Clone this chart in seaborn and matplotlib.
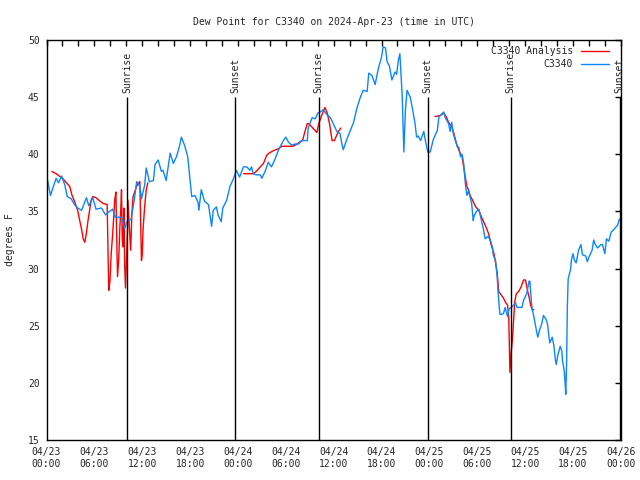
import numpy as np
import pandas as pd
import seaborn as sns
import matplotlib
matplotlib.use("Agg")
import matplotlib.pyplot as plt
import matplotlib.dates as mdates

start = pd.Timestamp("2024-04-23 00:00")

# station obs: hours after 04/23 00:00 UTC, dew point (F)
obs_hours = [0.0, 0.5, 1.2, 1.5, 1.9, 2.3, 2.6, 3.1, 3.5, 3.9, 4.4, 5.0, 5.3, 5.8, 6.2, 6.9,
             7.4, 7.9, 8.3, 8.6, 9.4, 9.8, 10.0, 10.2, 10.6, 11.0, 11.3, 11.7, 11.9, 12.3, 12.5,
             12.9, 13.4, 13.6, 14.0, 14.4, 14.6, 15.0, 15.5, 15.9, 16.3, 16.7, 16.9, 17.3, 17.7,
             18.2, 18.6, 19.0, 19.1, 19.4, 19.8, 20.3, 20.7, 20.9, 21.3, 21.5, 21.9, 22.1, 22.6,
             23.0, 23.4, 23.8, 24.2, 24.7, 25.1, 25.5, 25.7, 25.9, 26.3, 26.8, 27.0, 27.4, 27.8,
             28.2, 28.6, 29.1, 29.7, 30.0, 30.3, 30.7, 31.2, 31.6, 32.0, 32.4, 32.7, 32.8, 33.3,
             33.7, 34.0, 34.3, 34.7, 35.1, 35.6, 36.0, 36.4, 36.8, 37.0, 37.2, 37.7, 38.1, 38.5,
             38.9, 39.3, 39.7, 40.2, 40.4, 40.8, 41.2, 41.6, 42.0, 42.2, 42.5, 42.7, 43.0, 43.3,
             43.7, 43.9, 44.1, 44.3, 44.6, 44.8, 45.0, 45.2, 45.6, 45.9, 46.2, 46.4, 46.6, 46.9,
             47.3, 47.5, 47.8, 48.1, 48.5, 49.0, 49.2, 49.4, 49.8, 50.0, 50.4, 50.6, 50.8, 51.0,
             51.3, 51.5, 51.7, 51.9, 52.1, 52.3, 52.5, 52.7, 52.9, 53.3, 53.5, 53.6, 53.9, 54.2,
             54.4, 54.7, 55.0, 55.3, 55.6, 55.9, 56.0, 56.3, 56.5, 56.6, 56.75, 56.85, 57.1, 57.3,
             57.5, 57.6, 57.8, 58.0, 58.3, 58.8, 59.0, 59.6, 59.8, 60.2, 60.5, 60.6, 60.8, 60.9,
             61.1, 61.2, 61.5, 61.6, 61.8, 62.1, 62.3, 62.6, 62.8, 63.0, 63.1, 63.4, 63.6, 63.8,
             63.9, 64.1, 64.4, 64.6, 64.7, 64.9, 65.0, 65.1, 65.2, 65.3, 65.4, 65.7, 65.8, 66.0,
             66.2, 66.4, 66.7, 67.0, 67.2, 67.6, 67.8, 68.0, 68.4, 68.6, 68.8, 69.1, 69.5, 69.7,
             70.0, 70.2, 70.5, 70.8, 71.1, 71.6, 71.8, 72.0]
obs_dewpt = [38.2, 36.4, 37.9, 37.5, 38.1, 37.3, 36.3, 36.1, 35.6, 35.3, 35.1, 36.2, 35.5, 36.2, 35.2, 35.3,
             34.7, 35.0, 35.2, 34.5, 34.5, 33.5, 34.0, 34.2, 34.3, 36.0, 37.6, 37.2, 36.1, 37.3, 38.8,
             37.6, 37.7, 39.1, 39.5, 38.5, 38.6, 37.7, 40.1, 39.2, 39.8, 40.8, 41.5, 40.8, 39.8,
             36.3, 36.4, 35.8, 35.1, 36.9, 35.9, 35.6, 33.7, 35.1, 35.4, 34.7, 34.1, 35.3, 36.0,
             37.2, 37.8, 38.6, 38.0, 38.9, 38.9, 38.6, 38.9, 38.3, 38.2, 38.2, 37.9, 38.5, 39.3,
             38.9, 39.5, 40.4, 41.2, 41.5, 41.1, 40.8, 40.9, 40.9, 41.2, 41.2, 41.2, 42.3, 43.2,
             43.1, 43.6, 43.7, 43.9, 43.5, 43.2, 42.6, 42.0, 41.8, 41.0, 40.4, 41.4, 42.1, 42.8,
             44.0, 44.9, 45.6, 45.5, 47.1, 46.9, 46.1, 47.5, 48.5, 49.4, 49.3, 48.1, 47.7, 46.5,
             47.2, 47.0, 48.2, 48.8, 45.0, 40.2, 43.9, 45.6, 45.0, 43.9, 42.7, 41.5, 41.6, 41.2,
             42.0, 41.2, 40.2, 40.2, 41.3, 42.1, 43.3, 43.4, 43.7, 43.2, 42.7, 42.0, 42.8, 41.8,
             41.1, 40.7, 40.6, 39.8, 40.0, 39.2, 37.5, 36.4, 36.8, 35.7, 34.2, 34.6, 35.0, 35.2,
             34.6, 33.7, 32.6, 32.8, 32.6, 31.9, 31.2, 30.7, 29.3, 28.1, 26.7, 26.0, 26.0, 26.1,
             26.6, 26.3, 25.8, 26.5, 26.6, 27.0, 26.6, 26.6, 27.2, 27.8, 28.9, 28.9, 27.0, 26.4,
             25.8, 25.4, 24.3, 24.0, 24.6, 25.2, 25.9, 25.6, 25.2, 24.0, 23.5, 24.0, 23.3, 22.0,
             21.6, 22.4, 23.2, 22.8, 21.9, 21.1, 20.2, 19.0, 21.6, 26.7, 29.1, 29.9, 30.7, 31.3,
             30.7, 30.5, 31.6, 32.1, 31.2, 31.1, 30.6, 31.0, 31.6, 32.5, 32.1, 31.8, 32.1, 32.1,
             31.3, 32.6, 32.4, 33.2, 33.4, 33.8, 34.3, 34.3]

# analysis, three separate runs
ana_hours_1 = [0.67, 1.2, 1.6, 2.0, 2.5, 2.9, 3.2, 3.5, 3.9, 4.1, 4.4, 4.6, 4.8, 5.0, 5.2, 5.4,
               5.6, 5.8, 6.2, 6.7, 7.1, 7.6, 7.7, 7.8, 7.95, 8.1, 8.3, 8.55, 8.7, 8.75, 8.9, 9.05,
               9.2, 9.3, 9.4, 9.5, 9.6, 9.7, 9.8, 9.9, 10.05, 10.15, 10.2, 10.4, 10.55, 10.7,
               10.85, 11.05, 11.3, 11.55, 11.7, 11.8, 11.9, 12.0, 12.1, 12.3, 12.5, 12.7]
ana_dewpt_1 = [38.5, 38.3, 38.1, 37.9, 37.5, 37.2, 36.4, 35.9, 35.1, 34.4, 33.4, 32.6, 32.3, 33.1, 34.2, 35.1,
               36.0, 36.3, 36.2, 35.9, 35.7, 35.6, 31.9, 28.1, 28.9, 31.2, 33.1, 36.0, 36.7, 34.5, 29.3, 30.8,
               33.7, 35.0, 36.9, 32.5, 31.9, 35.3, 30.2, 28.3, 31.3, 33.3, 36.0, 33.4, 31.6, 34.8,
               36.3, 36.7, 37.2, 37.5, 37.6, 34.2, 30.7, 31.2, 33.4, 35.4, 36.9, 37.5]
ana_hours_2 = [24.7, 25.9, 26.3, 26.8, 27.2, 27.6, 27.9, 28.4, 29.1, 29.5, 30.9, 31.4, 31.8, 32.1,
               32.4, 32.7, 33.0, 33.5, 33.9, 34.1, 34.5, 34.9, 35.2, 35.5, 35.8, 36.1, 36.4, 36.6, 36.9]
ana_dewpt_2 = [38.3, 38.3, 38.5, 38.9, 39.2, 39.9, 40.1, 40.3, 40.5, 40.7, 40.7, 40.9, 41.1, 41.2,
               42.0, 42.7, 42.6, 42.2, 41.9, 42.6, 43.4, 44.1, 43.6, 42.6, 41.2, 41.2, 41.7, 42.0, 42.3]
ana_hours_3 = [48.7, 49.4, 49.8, 50.1, 50.4, 50.8, 51.0, 51.3, 51.5, 51.8, 52.1, 52.3, 52.5, 52.7,
               52.9, 53.1, 53.4, 53.8, 54.2, 54.6, 55.0, 55.4, 55.7, 56.1, 56.3, 56.5, 56.7, 56.9,
               57.3, 57.5, 57.8, 57.95, 58.05, 58.1, 58.25, 58.4, 58.5, 58.7, 58.9, 59.2, 59.5,
               59.8, 60.05, 60.3, 60.5, 60.7, 60.9, 61.1]
ana_dewpt_3 = [43.3, 43.4, 43.6, 43.3, 42.8, 42.4, 42.0, 41.2, 40.7, 40.2, 39.8, 38.9, 38.0, 37.2,
               36.9, 36.4, 36.0, 35.4, 35.1, 34.4, 33.8, 33.1, 32.2, 31.3, 30.5, 29.6, 28.0, 27.8,
               27.4, 27.1, 26.8, 25.8, 22.5, 20.9, 22.6, 23.7, 24.8, 27.1, 27.8, 28.0, 28.4,
               29.0, 29.0, 28.1, 27.5, 26.8, 26.4, 26.4]

sun_hours = [10.1, 23.65, 34.1, 47.8, 58.2, 71.85]
sun_labels = ["Sunrise", "Sunset", "Sunrise", "Sunset", "Sunrise", "Sunset"]

ANA_COLOR = "#ff0000"
OBS_COLOR = "#0a86ff"


def to_df(hours, vals):
    return pd.DataFrame({"time": start + pd.to_timedelta(hours, unit="h"), "dewpt": vals})


sns.set_style("white")
plt.rcParams["font.family"] = ["DejaVu Sans Mono"]
plt.rcParams["font.size"] = 7

fig = plt.figure(figsize=(6.4, 4.8), dpi=100)
ax = fig.add_axes([0.0727, 0.0833, 0.8973, 0.8334])

segs = [(ana_hours_1, ana_dewpt_1), (ana_hours_2, ana_dewpt_2), (ana_hours_3, ana_dewpt_3)]
for i, (h, v) in enumerate(segs):
    sns.lineplot(data=to_df(h, v), x="time", y="dewpt", color=ANA_COLOR, lw=1,
                 sort=False, label="C3340 Analysis" if i == 0 else None, ax=ax)
sns.lineplot(data=to_df(obs_hours, obs_dewpt), x="time", y="dewpt", color=OBS_COLOR, lw=1,
             sort=False, label="C3340", ax=ax)

# sunrise / sunset markers
for h, lab in zip(sun_hours, sun_labels):
    t = start + pd.Timedelta(hours=h)
    ax.vlines(t, 15, 45, color="black", lw=1, zorder=3)
    ax.text(t, 45.35, lab, rotation=90, ha="center", va="bottom", fontsize=7)

ax.set_xlim(start, start + pd.Timedelta(hours=72))
ax.set_ylim(15, 50)
ax.set_yticks(np.arange(15, 51, 5))
ax.xaxis.set_major_locator(mdates.HourLocator(byhour=[0, 6, 12, 18]))
ax.xaxis.set_major_formatter(mdates.DateFormatter("%m/%d\n%H:%M"))
ax.xaxis.set_minor_locator(mdates.HourLocator(byhour=range(0, 24, 2)))
ax.tick_params(axis="both", which="both", direction="in", top=True, right=True,
               length=4, width=1, color="black", labelsize=7, pad=5)
for s in ax.spines.values():
    s.set_color("black")
    s.set_linewidth(1)

ax.set_xlabel("")
ax.set_ylabel("degrees F", fontsize=7, labelpad=9)
ax.set_title("Dew Point for C3340 on 2024-Apr-23 (time in UTC)", fontsize=7, pad=11)

ax.legend(loc="upper right", bbox_to_anchor=(0.979, 0.985), frameon=False,
          markerfirst=False, fontsize=7, handlelength=2.9, handletextpad=0.8,
          labelspacing=0.35, borderpad=0, borderaxespad=0)

fig.savefig("out.png", dpi=100)
